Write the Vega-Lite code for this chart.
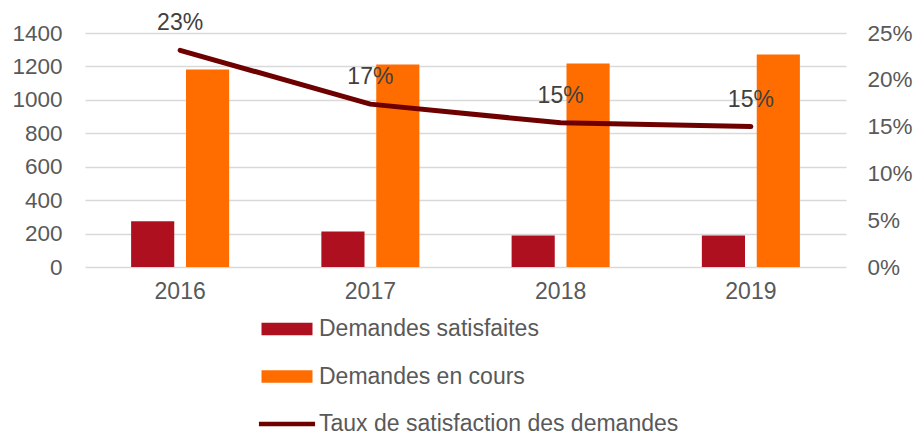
{
  "$schema": "https://vega.github.io/schema/vega-lite/v6.json",
  "width": 761,
  "height": 234,
  "autosize": {"type": "none"},
  "padding": {"left": 85, "top": 33, "right": 73, "bottom": 168},
  "background": "white",
  "config": {
    "view": {"stroke": null},
    "font": "Liberation Sans",
    "axis": {"labelFont": "Liberation Sans", "labelFontSize": 22.5, "labelColor": "#595959", "titleColor": "#595959"},
    "legend": {"labelFont": "Liberation Sans", "labelFontSize": 23, "labelColor": "#595959"}
  },
  "datasets": {
    "bars": [
      {"year": "2016", "series": "Demandes satisfaites", "value": 273},
      {"year": "2016", "series": "Demandes en cours", "value": 1182},
      {"year": "2017", "series": "Demandes satisfaites", "value": 213},
      {"year": "2017", "series": "Demandes en cours", "value": 1212},
      {"year": "2018", "series": "Demandes satisfaites", "value": 189},
      {"year": "2018", "series": "Demandes en cours", "value": 1218},
      {"year": "2019", "series": "Demandes satisfaites", "value": 189},
      {"year": "2019", "series": "Demandes en cours", "value": 1271}
    ],
    "rates": [
      {"year": "2016", "rate": 0.2315},
      {"year": "2017", "rate": 0.174},
      {"year": "2018", "rate": 0.154},
      {"year": "2019", "rate": 0.150}
    ]
  },
  "encoding": {
    "x": {
      "field": "year", "type": "nominal", "title": null,
      "scale": {"paddingInner": 0, "paddingOuter": 0},
      "axis": {"labelAngle": 0, "domain": false, "ticks": false, "labelPadding": 13, "grid": false, "labelFontSize": 23}
    }
  },
  "layer": [
    {
      "data": {"name": "bars"},
      "mark": {"type": "bar"},
      "encoding": {
        "xOffset": {
          "field": "series", "type": "nominal",
          "sort": ["Demandes satisfaites", "Demandes en cours"],
          "scale": {"paddingInner": 0.214, "paddingOuter": 0.84}
        },
        "y": {
          "field": "value", "type": "quantitative", "title": null,
          "scale": {"domain": [0, 1400], "nice": false},
          "axis": {
            "values": [0, 200, 400, 600, 800, 1000, 1200, 1400],
            "format": "d",
            "domain": false, "ticks": false, "labelPadding": 23,
            "grid": true, "gridColor": "#D9D9D9", "gridWidth": 1.5
          }
        },
        "color": {
          "field": "series", "type": "nominal",
          "scale": {
            "domain": ["Demandes satisfaites", "Demandes en cours", "Taux de satisfaction des demandes"],
            "range": ["#AE101F", "#FF6D00", "#6E0000"]
          },
          "legend": {
            "title": null,
            "orient": "none",
            "legendX": 189,
            "legendY": 283,
            "direction": "vertical",
            "symbolType": "M-2,-0.5H2V0.5H-2Z",
            "symbolSize": 650,
            "symbolStrokeWidth": 0,
            "rowPadding": 22.5,
            "labelOffset": 19,
            "labelLimit": 600,
            "encode": {
              "symbols": {
                "update": {
                  "shape": {"signal": "datum.label === 'Taux de satisfaction des demandes' ? 'M-2,-0.5M-2,0.5M-2.2,-0.17H2.2V0.17H-2.2Z' : 'M-2,-0.5H2V0.5H-2Z'"},
                  "size": {"value": 650},
                  "fill": {"scale": "color", "field": "value"},
                  "strokeWidth": {"value": 0},
                  "opacity": {"value": 1}
                }
              }
            }
          }
        }
      }
    },
    {
      "data": {"name": "rates"},
      "encoding": {
        "y": {
          "field": "rate", "type": "quantitative", "title": null,
          "scale": {"domain": [0, 0.25], "nice": false},
          "axis": {
            "orient": "right", "format": ".0%",
            "values": [0, 0.05, 0.1, 0.15, 0.2, 0.25],
            "domain": false, "ticks": false, "grid": false, "labelPadding": 21
          }
        }
      },
      "layer": [
        {
          "mark": {"type": "line", "color": "#6E0000", "strokeWidth": 5, "strokeCap": "round", "strokeJoin": "round"}
        },
        {
          "mark": {"type": "text", "dy": -27, "fontSize": 23, "color": "#404040", "font": "Liberation Sans"},
          "encoding": {"text": {"field": "rate", "type": "quantitative", "format": ".0%"}}
        }
      ]
    }
  ],
  "resolve": {"scale": {"y": "independent"}}
}
